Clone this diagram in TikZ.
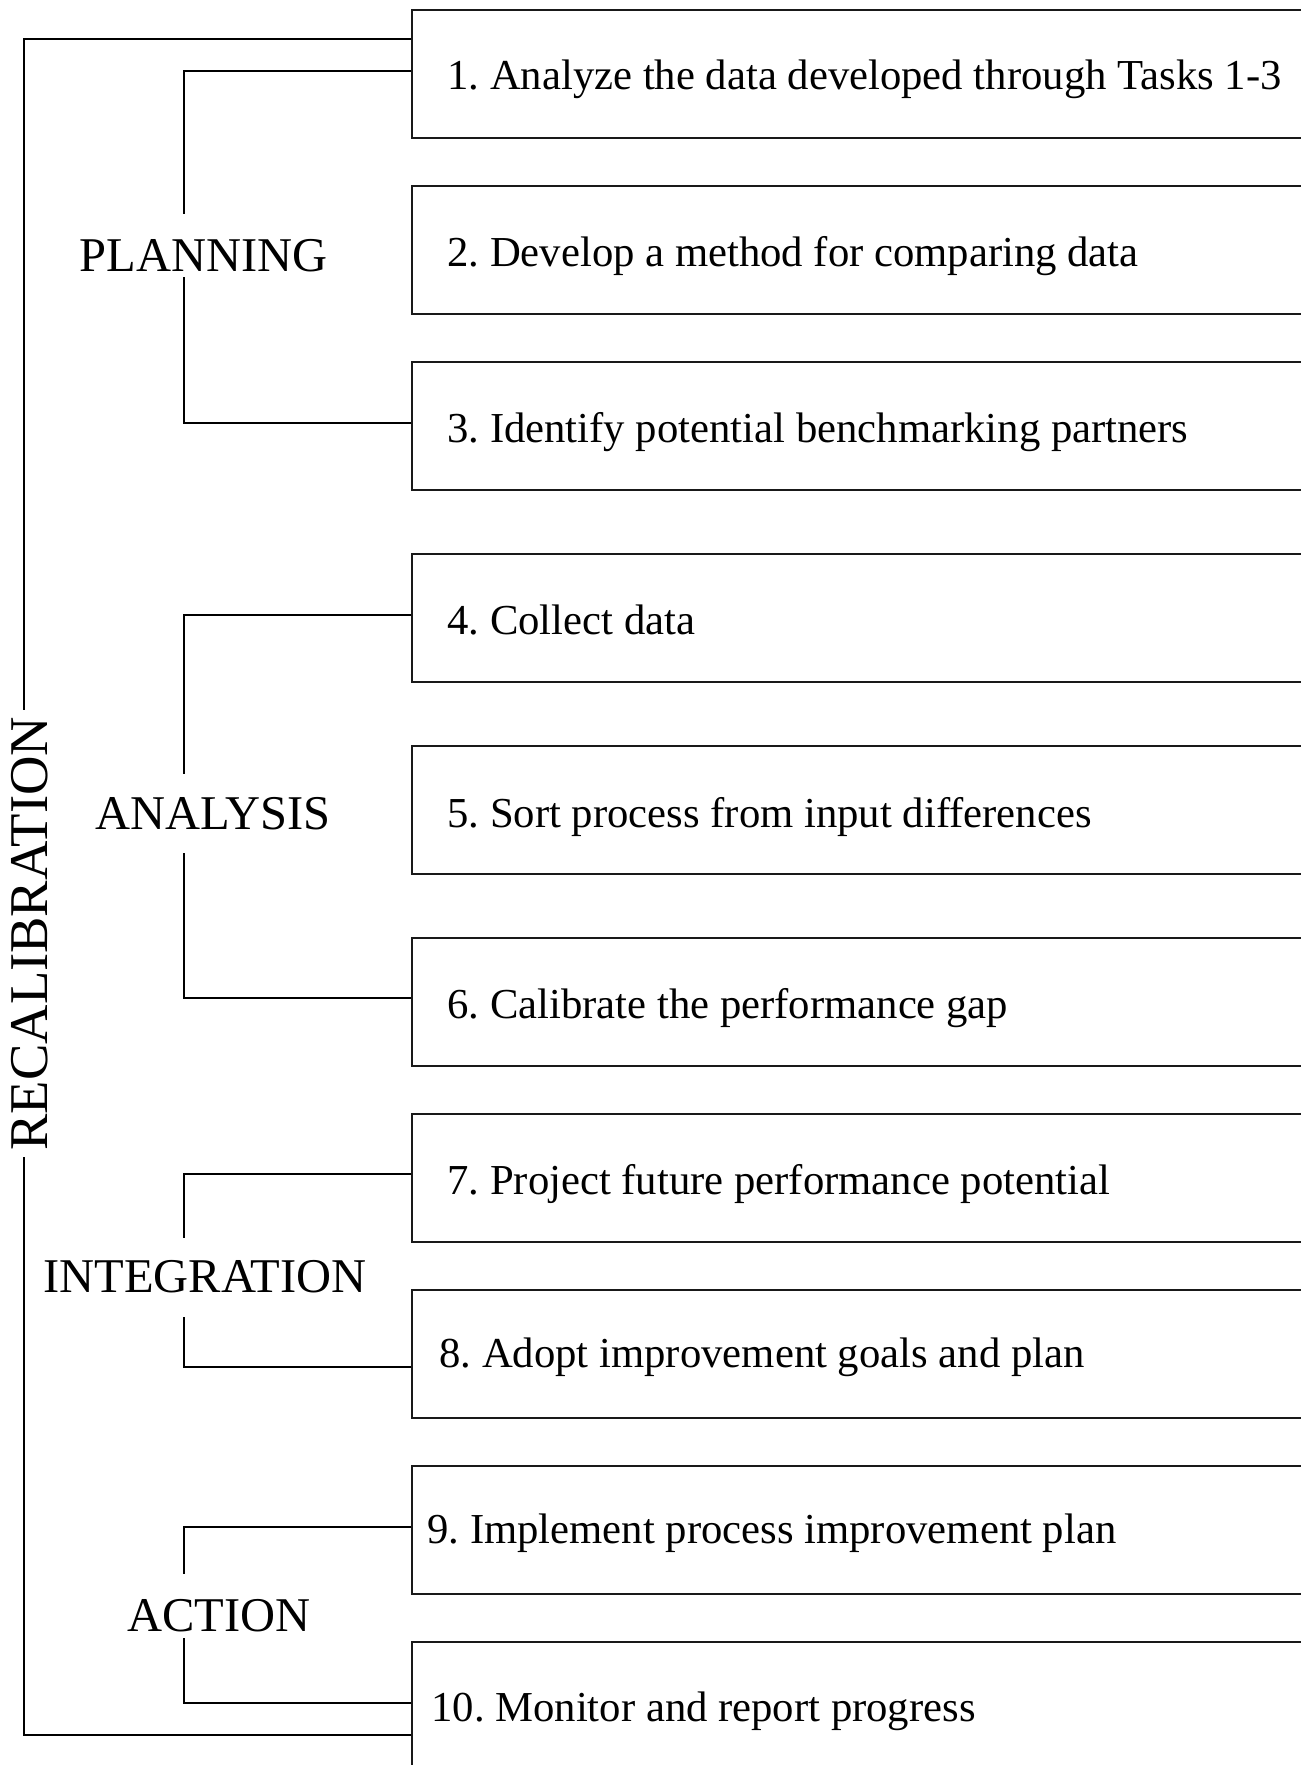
\documentclass[tikz,border=0pt]{standalone}
\usepackage{fontspec}
\setmainfont{Liberation Serif}
\frenchspacing
\begin{document}
\begin{tikzpicture}[x=0.5pt,y=-0.5pt,
  box/.style={draw=black!90, line width=0.8pt, rectangle, minimum width=470pt,
    minimum height=64pt, inner sep=0pt, anchor=north west},
  stepname/.style={inner sep=0pt, anchor=base west, font=\fontsize{21.35pt}{25pt}\selectfont},
  phase/.style={inner sep=0pt, anchor=base west, font=\fontsize{24.25pt}{29pt}\selectfont},
  link/.style={line width=0.9pt, line join=miter}]
\useasboundingbox (0,0) rectangle (1300,1765);
\fill[white] (0,0) rectangle (1300,1765);

% step boxes (they run off the right and bottom edges)
\node[box] (b1)  at (411,9)    {};
\node[box] (b2)  at (411,185)  {};
\node[box] (b3)  at (411,361)  {};
\node[box] (b4)  at (411,553)  {};
\node[box] (b5)  at (411,745)  {};
\node[box] (b6)  at (411,937)  {};
\node[box] (b7)  at (411,1113) {};
\node[box] (b8)  at (411,1289) {};
\node[box] (b9)  at (411,1465) {};
\node[box] (b10) at (411,1641) {};

% step texts
\node[stepname] (t1)  at (447,90)   {1. Analyze the data developed through Tasks 1-3};
\node[stepname] (t2)  at (447,267)  {2. Develop a method for comparing data};
\node[stepname] (t3)  at (447,442)  {3. Identify potential benchmarking partners};
\node[stepname] (t4)  at (447,634)  {4. Collect data};
\node[stepname] (t5)  at (447,827)  {5. Sort process from input differences};
\node[stepname] (t6)  at (447,1018) {6. Calibrate the performance gap};
\node[stepname] (t7)  at (447,1194) {7. Project future performance potential};
\node[stepname] (t8)  at (439,1367) {8. Adopt improvement goals and plan};
\node[stepname] (t9)  at (427,1543) {9. Implement process improvement plan};
\node[stepname] (t10) at (431,1721) {10. Monitor and report progress};

% phase labels
\node[phase] (planning)    at (79,272)   {PLANNING};
\node[phase] (analysis)    at (95,829)   {ANALYSIS};
\node[phase] (integration) at (43,1292)  {INTEGRATION};
\node[phase] (action)      at (127,1631) {ACTION};
\node[inner sep=0pt, anchor=base west, rotate=90,
      font=\fontsize{27.3pt}{32pt}\selectfont] (recal) at (47,1151) {RECALIBRATION};

% ends of the bracket lines beside the labels
\coordinate (pl-a) at (184,214);
\coordinate (pl-b) at (184,277);
\coordinate (an-a) at (184,774);
\coordinate (an-b) at (184,853);
\coordinate (in-a) at (184,1238);
\coordinate (in-b) at (184,1317);
\coordinate (ac-a) at (184,1574);
\coordinate (ac-b) at (184,1638);
\coordinate (re-a) at (24,710);
\coordinate (re-b) at (24,1157);

% phase brackets
\draw[link] ([yshift=1.5pt]b1.west) -| (pl-a);
\draw[link] ([yshift=1.5pt]b3.west) -| (pl-b);
\draw[link] ([yshift=1.5pt]b4.west) -| (an-a);
\draw[link] ([yshift=2pt]b6.west)   -| (an-b);
\draw[link] ([yshift=2pt]b7.west)   -| (in-a);
\draw[link] ([yshift=-6.5pt]b8.west) -| (in-b);
\draw[link] ([yshift=1.5pt]b9.west) -| (ac-a);
\draw[link] ([yshift=1.5pt]b10.west) -| (ac-b);

% recalibration loop
\draw[link] ([yshift=17.5pt]b1.west) -| (re-a);
\draw[link] ([yshift=-14.5pt]b10.west) -| (re-b);
\end{tikzpicture}
\end{document}
